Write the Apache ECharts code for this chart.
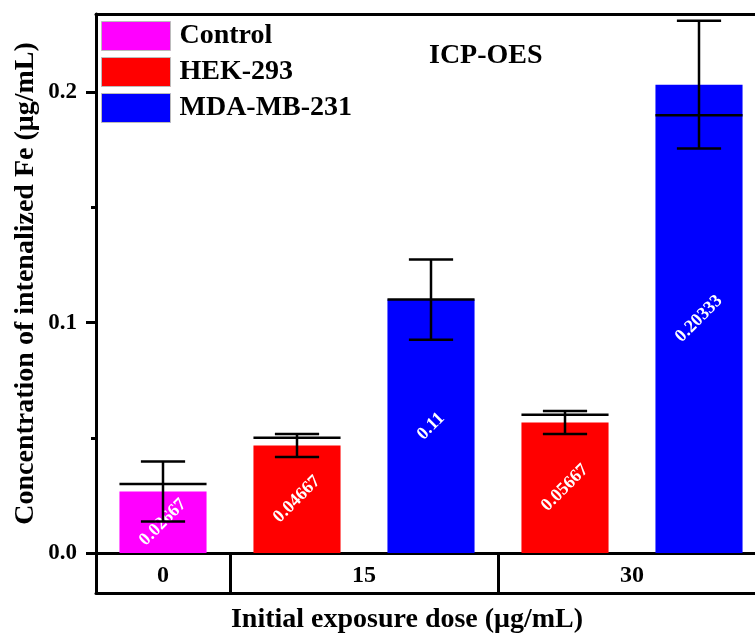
<!DOCTYPE html>
<html>
<head>
<meta charset="utf-8">
<script src="https://cdn.jsdelivr.net/npm/echarts@6/dist/echarts.min.js"></script>
<style>html,body{margin:0;padding:0;background:#fff}#c{width:755px;height:635px}</style>
</head>
<body>
<div id="c"></div>
<script>
// ---- data ----
const doses = ['0', '15', '30'];
const cellLines = ['Control', 'HEK-293', 'MDA-MB-231'];
const barDose = ['0', '15', '15', '30', '30'];
const barCell = ['Control', 'HEK-293', 'MDA-MB-231', 'HEK-293', 'MDA-MB-231'];
const barMean = [0.02667, 0.04667, 0.11, 0.05667, 0.20333];
const barSD = [0.013, 0.005, 0.0174, 0.005, 0.0277];
const barMid = [0.03, 0.05, 0.11, 0.06, 0.19];
const yTicks = [0, 0.1, 0.2];
const yMinorTicks = [0.05, 0.15];
const yMax = 0.234;

const colors = {'Control': '#FF00FF', 'HEK-293': '#FF0000', 'MDA-MB-231': '#0000FF'};
const FONT = '"Liberation Serif", "Times New Roman", serif';

// group positions along the slot axis
const nSlots = barDose.length;
const doseStart = doses.map(d => barDose.indexOf(d));
const doseEnd = doses.map(d => barDose.lastIndexOf(d) + 1);
const doseCenter = doses.map((d, i) => (doseStart[i] + doseEnd[i]) / 2);
const doseBounds = doseStart.concat([nSlots]);

const chart = echarts.init(document.getElementById('c'));

const barSeries = cellLines.map(name => ({
  name: name,
  type: 'bar',
  xAxisIndex: 0,
  yAxisIndex: 0,
  barWidth: '65%',
  barGap: '-100%',
  itemStyle: {color: colors[name]},
  label: {
    show: true,
    position: 'inside',
    rotate: 45,
    color: '#fff',
    fontFamily: FONT,
    fontWeight: 'bold',
    fontSize: 18
  },
  data: barMean.map((v, i) => barCell[i] === name ? v : '-')
}));

const errSeries = {
  type: 'custom',
  xAxisIndex: 0,
  yAxisIndex: 0,
  z: 10,
  silent: true,
  encode: {x: 0, y: 1},
  data: barMean.map((v, i) => [i, v, barSD[i], barMid[i]]),
  renderItem: function (params, api) {
    const x = api.value(0), m = api.value(1), sd = api.value(2), mid = api.value(3);
    const top = api.coord([x, m + sd]);
    const bot = api.coord([x, m - sd]);
    const mp = api.coord([x, mid]);
    const bw = api.size([1, 0])[0];
    const cap = bw * 0.165, half = bw * 0.325;
    const st = {stroke: '#000', lineWidth: 2.5};
    return {
      type: 'group',
      children: [
        {type: 'line', shape: {x1: top[0], y1: top[1], x2: bot[0], y2: bot[1]}, style: st},
        {type: 'line', shape: {x1: top[0] - cap, y1: top[1], x2: top[0] + cap, y2: top[1]}, style: st},
        {type: 'line', shape: {x1: bot[0] - cap, y1: bot[1], x2: bot[0] + cap, y2: bot[1]}, style: st},
        {type: 'line', shape: {x1: mp[0] - half, y1: mp[1], x2: mp[0] + half, y2: mp[1]}, style: st}
      ]
    };
  }
};

const option = {
  backgroundColor: '#fff',
  animation: false,
  grid: {left: 96, top: 14, bottom: 82, width: 670, containLabel: false, outerBoundsMode: 'none'},
  title: [
    {text: 'ICP-OES', left: 429, top: 42, padding: 0,
      textStyle: {fontFamily: FONT, fontWeight: 'bold', fontSize: 28, color: '#000'}},
    {text: 'Initial exposure dose (μg/mL)', left: 407, top: 606, padding: 0, textAlign: 'center',
      textStyle: {fontFamily: FONT, fontWeight: 'bold', fontSize: 28, color: '#000'}}
  ],
  legend: {
    data: cellLines,
    orient: 'vertical',
    left: 101, top: 21, padding: 0,
    itemWidth: 69, itemHeight: 29, itemGap: 6,
    icon: 'rect',
    itemStyle: {borderColor: '#bbb', borderWidth: 1},
    textStyle: {fontFamily: FONT, fontWeight: 'bold', fontSize: 28, color: '#000', lineHeight: 23, padding: [6, 0, 0, 4]}
  },
  xAxis: [
    {type: 'category', data: barDose.map((d, i) => 'slot' + i), position: 'bottom',
      axisLine: {show: true, lineStyle: {color: '#000', width: 3}},
      axisTick: {show: false}, axisLabel: {show: false}, splitLine: {show: false}},
    {type: 'value', min: 0, max: nSlots, position: 'bottom',
      axisLine: {show: false},
      axisTick: {show: true, customValues: doseBounds, length: 40, lineStyle: {color: '#000', width: 3}},
      axisLabel: {show: true, customValues: doseCenter, margin: 11,
        formatter: v => doses[doseCenter.indexOf(v)],
        fontFamily: FONT, fontWeight: 'bold', fontSize: 24, color: '#000'},
      splitLine: {show: false}},
    {type: 'value', min: 0, max: nSlots, position: 'bottom', offset: 40,
      axisLine: {show: true, onZero: false, lineStyle: {color: '#000', width: 3}},
      axisTick: {show: false}, axisLabel: {show: false}, splitLine: {show: false}},
    {type: 'value', min: 0, max: nSlots, position: 'top',
      axisLine: {show: true, onZero: false, lineStyle: {color: '#000', width: 3}},
      axisTick: {show: false}, axisLabel: {show: false}, splitLine: {show: false}}
  ],
  yAxis: [
    {type: 'value', min: 0, max: yMax, position: 'left',
      name: 'Concentration of intenalized Fe (μg/mL)', nameLocation: 'middle', nameGap: 56,
      nameMoveOverlap: false,
      nameTextStyle: {fontFamily: FONT, fontWeight: 'bold', fontSize: 28, color: '#000'},
      axisLine: {show: true, onZero: false, lineStyle: {color: '#000', width: 3}},
      axisTick: {show: true, customValues: yTicks, length: 10, lineStyle: {color: '#000', width: 3}},
      axisLabel: {show: true, customValues: yTicks, margin: 19,
        formatter: v => v.toFixed(1),
        fontFamily: FONT, fontWeight: 'bold', fontSize: 23, color: '#000'},
      splitLine: {show: false}},
    {type: 'value', min: 0, max: yMax, position: 'left',
      axisLine: {show: false},
      axisTick: {show: true, customValues: yMinorTicks, length: 5, lineStyle: {color: '#000', width: 3}},
      axisLabel: {show: false}, splitLine: {show: false}}
  ],
  series: barSeries.concat([errSeries])
};
chart.setOption(option);
</script>
</body>
</html>
